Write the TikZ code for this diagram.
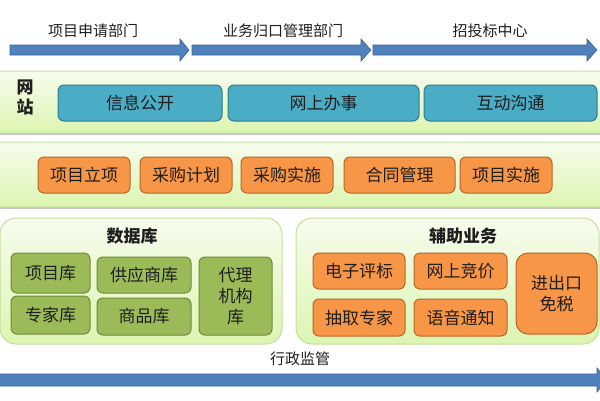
\documentclass[tikz,border=0pt]{standalone}
\usepackage{fontspec}
\newfontfamily\cjk{Noto Sans CJK SC}
\usepackage{tikz}
\usetikzlibrary{positioning, shadings}
\usepackage{xcolor}

\definecolor{arrowblue}{RGB}{79,129,189}
\definecolor{arrowedge}{RGB}{58,98,148}
\definecolor{siteteal}{RGB}{75,172,198}
\definecolor{siteedge}{RGB}{49,122,143}
\definecolor{taskorange}{RGB}{247,150,70}
\definecolor{taskedge}{RGB}{184,102,42}
\definecolor{dbgreen}{RGB}{155,187,89}
\definecolor{dbedge}{RGB}{112,138,60}
\definecolor{bandtop}{RGB}{247,252,238}
\definecolor{bandbottom}{RGB}{220,245,176}
\definecolor{bandedge}{RGB}{196,222,158}
\definecolor{inktext}{RGB}{30,30,30}

\tikzset{
  box/.style={rounded corners=6pt, line width=1pt, inner sep=0pt,
    minimum height=36pt, align=center, text=inktext,
    font=\cjk\fontsize{17}{21}\selectfont},
  sitebox/.style={box, fill=siteteal, draw=siteedge},
  taskbox/.style={box, fill=taskorange, draw=taskedge},
  dbbox/.style={box, fill=dbgreen, draw=dbedge},
  flowarrow/.style={fill=arrowblue, draw=arrowedge, line width=0.6pt},
  flowlabel/.style={text=inktext, font=\cjk\fontsize{15}{18}\selectfont},
  paneltitle/.style={text=inktext, font=\cjk\bfseries\fontsize{17}{20}\selectfont},
  band/.style={top color=bandtop, bottom color=bandbottom, draw=bandedge,
    line width=1pt, rounded corners=4pt},
  panel/.style={top color=bandtop, bottom color=bandbottom, draw=bandedge,
    line width=1pt, rounded corners=16pt}
}

\begin{document}
\begin{tikzpicture}[x=1pt, y=-1pt]
  \useasboundingbox (0,0) rectangle (600,400);
  \clip (0,0) rectangle (600,400);

  % flow arrows on top
  \foreach \xa/\xb/\xc in {10/180/189, 192/361/371, 373/587/597}
    \filldraw[flowarrow] (\xa,45) -- (\xb,45) -- (\xb,39) -- (\xc,50)
      -- (\xb,61) -- (\xb,55) -- (\xa,55) -- cycle;
  \node[flowlabel] (apply) at (93,31) {项目申请部门};
  \node[flowlabel] (manage) at (283,31) {业务归口管理部门};
  \node[flowlabel] (bidding) at (490,31) {招投标中心};

  % website band
  \draw[gray!45, line width=1.5pt] (0,134) -- (600,134);
  \shadedraw[band] (-6,71) rectangle (606,133);
  \node[paneltitle, align=center] (site) at (25,97) {网\\站};
  \node[sitebox, minimum width=164pt] (publish) at (140,103) {信息公开};
  \node[sitebox, minimum width=191pt] (office) at (323.5,103) {网上办事};
  \node[sitebox, minimum width=173pt] (interact) at (510.5,103) {互动沟通};

  % procurement band
  \draw[gray!45, line width=1.5pt] (0,208) -- (600,208);
  \shadedraw[band] (-6,142) rectangle (606,207);
  \node[taskbox, minimum width=92pt] (setup) at (84,175) {项目立项};
  \node[taskbox, minimum width=92pt] (plan) at (186,175) {采购计划};
  \node[taskbox, minimum width=92pt] (purchase) at (287,175) {采购实施};
  \node[taskbox, minimum width=111pt] (contract) at (399.5,175) {合同管理};
  \node[taskbox, minimum width=92pt] (execute) at (506,175) {项目实施};

  % database panel
  \shadedraw[panel] (0,218) rectangle (282,344);
  \node[paneltitle] (dbtitle) at (132,236) {数据库};
  \node[dbbox, minimum width=79pt, minimum height=40pt] (projdb) at (50.5,273) {项目库};
  \node[dbbox, minimum width=79pt, minimum height=38pt] (expertdb) at (50.5,315) {专家库};
  \node[dbbox, minimum width=94pt] (supplierdb) at (144,275) {供应商库};
  \node[dbbox, minimum width=94pt, minimum height=37pt] (goodsdb) at (144,316.5) {商品库};
  \node[dbbox, minimum width=73pt, minimum height=78pt] (agentdb) at (235.5,296) {代理\\机构\\库};

  % auxiliary panel
  \shadedraw[panel] (296,218) rectangle (599,344);
  \node[paneltitle] (auxtitle) at (463,236) {辅助业务};
  \node[taskbox, minimum width=92pt] (evaluate) at (359,271) {电子评标};
  \node[taskbox, minimum width=93pt] (auction) at (460.5,271) {网上竞价};
  \node[taskbox, minimum width=92pt, minimum height=37pt] (draw) at (359,317.5) {抽取专家};
  \node[taskbox, minimum width=93pt, minimum height=37pt] (notify) at (460.5,317.5) {语音通知};
  \node[taskbox, minimum width=81pt, minimum height=81pt, rounded corners=12pt] (customs) at (556.5,293.5) {进出口\\免税};

  % supervision arrow
  \node[flowlabel] (supervise) at (300,359) {行政监管};
  \filldraw[flowarrow] (-2,374) -- (597,374) -- (597,368) -- (607,380)
    -- (597,392) -- (597,386) -- (-2,386) -- cycle;
\end{tikzpicture}
\end{document}
